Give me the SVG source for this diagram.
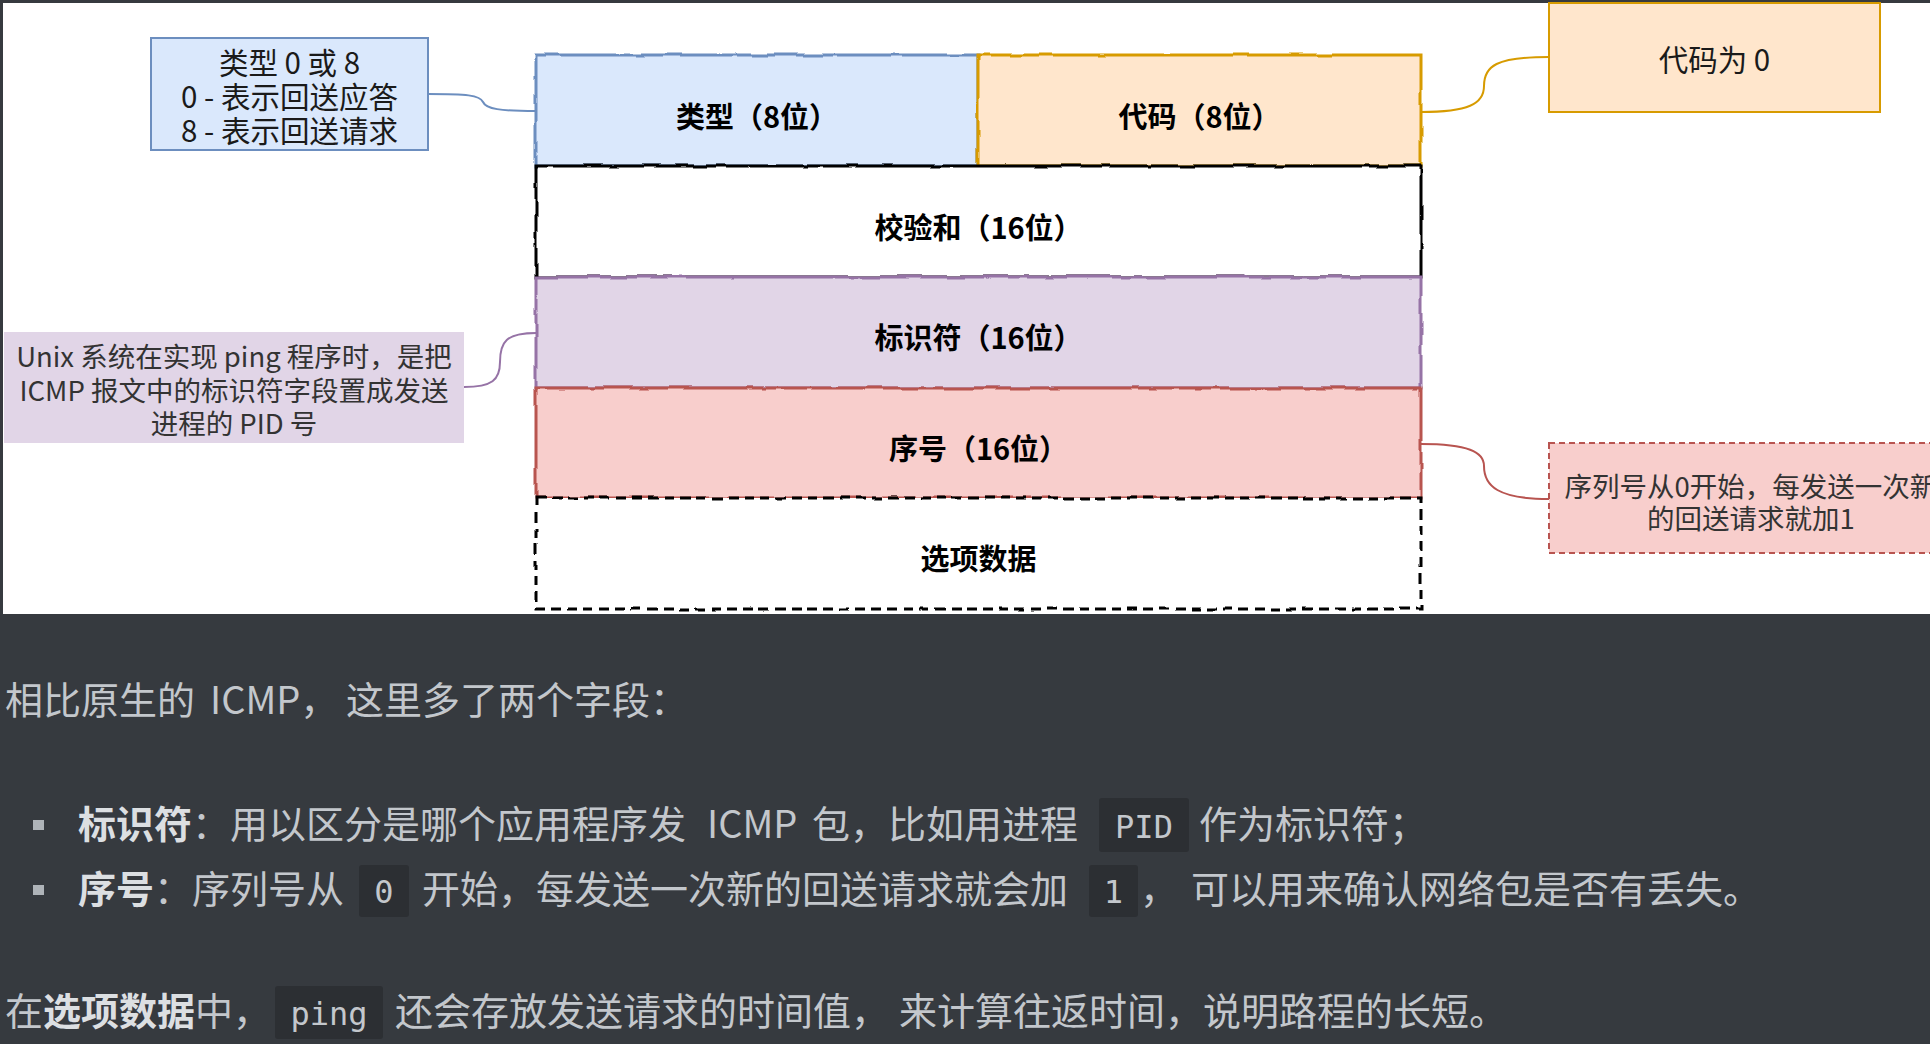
<svg xmlns="http://www.w3.org/2000/svg" width="1930" height="1044" viewBox="0 0 1930 1044">
<style>
.lbl{font-family:"Noto Sans CJK SC","Noto Sans",sans-serif;font-size:29px;font-weight:700;fill:#000;text-anchor:middle;dominant-baseline:central}
.note{font-family:"Noto Sans CJK SC","Noto Sans",sans-serif;font-size:29.5px;fill:#1a1a1a;text-anchor:middle;dominant-baseline:central}
.note2{font-family:"Noto Sans CJK SC","Noto Sans",sans-serif;font-size:27.5px;fill:#333;text-anchor:middle;dominant-baseline:central}
.edge{fill:none;stroke-width:2}
.cellbox{stroke-width:3}
.md{font-family:"Noto Sans CJK SC","Noto Sans",sans-serif;font-size:38px;fill:#c3c7cc}
.b{font-weight:700;fill:#dcdfe2}
.code{font-family:"DejaVu Sans Mono","Liberation Mono",monospace;font-size:32px;fill:#c3c7cc;text-anchor:middle}
.codebg{fill:#2c2f33}
</style>
<defs>
<filter id="rough" filterUnits="userSpaceOnUse" x="0" y="0" width="1930" height="1044">
<feTurbulence type="fractalNoise" baseFrequency="0.035" numOctaves="2" seed="5" result="n"/>
<feDisplacementMap in="SourceGraphic" in2="n" scale="4" xChannelSelector="R" yChannelSelector="G"/>
</filter>
</defs>
<rect x="0" y="0" width="1930" height="1044" fill="#363a3f"/>
<rect x="3" y="3" width="1927" height="611" fill="#ffffff"/>

<g id="connectors">
<path class="edge" stroke="#6c8ebf" d="M428,94 C466,94 480,95 483,102 C486,109 500,111 536,111"/>
<path class="edge" stroke="#d79b00" d="M1421,112 C1468,112 1484,104 1484,86 C1484,66 1496,57 1549,57"/>
<path class="edge" stroke="#9673a6" d="M464,387 C492,387 500,380 500,362 C500,342 506,333 536,333"/>
<path class="edge" stroke="#b85450" d="M1421,444 C1468,444 1484,452 1484,466 C1484,486 1498,499 1549,499"/>
</g>

<g id="type-field">
<rect x="536" y="55" width="442" height="111" fill="#dae8fc"/>
<rect class="cellbox" x="536" y="55" width="442" height="111" fill="none" stroke="#6c8ebf" filter="url(#rough)"/>
<text class="lbl" x="757" y="115">类型（8位）</text>
</g>
<g id="code-field">
<rect x="978" y="55" width="443" height="111" fill="#ffe6cc"/>
<rect class="cellbox" x="978" y="55" width="443" height="111" fill="none" stroke="#d79b00" filter="url(#rough)"/>
<text class="lbl" x="1199.5" y="115">代码（8位）</text>
</g>
<g id="checksum-field">
<rect x="536" y="166" width="885" height="111" fill="#ffffff"/>
<rect class="cellbox" x="536" y="166" width="885" height="111" fill="none" stroke="#000" filter="url(#rough)"/>
<text class="lbl" x="978.5" y="226">校验和（16位）</text>
</g>
<g id="identifier-field">
<rect x="536" y="277" width="885" height="111" fill="#e1d5e7"/>
<rect class="cellbox" x="536" y="277" width="885" height="111" fill="none" stroke="#9673a6" filter="url(#rough)"/>
<text class="lbl" x="978.5" y="336">标识符（16位）</text>
</g>
<g id="sequence-field">
<rect x="536" y="388" width="885" height="110" fill="#f8cecc"/>
<rect class="cellbox" x="536" y="388" width="885" height="110" fill="none" stroke="#b85450" filter="url(#rough)"/>
<text class="lbl" x="978.5" y="447">序号（16位）</text>
</g>
<g id="options-field">
<rect x="536" y="498" width="885" height="111" fill="#ffffff"/>
<rect class="cellbox" x="536" y="498" width="885" height="111" fill="none" stroke="#000" stroke-dasharray="10 6" filter="url(#rough)"/>
<text class="lbl" x="978.5" y="557">选项数据</text>
</g>

<g id="note-type">
<rect x="151" y="38" width="277" height="112" fill="#dae8fc" stroke="#6c8ebf" stroke-width="2"/>
<text class="note" x="289.5" y="61">类型 0 或 8</text>
<text class="note" x="289.5" y="95">0 - 表示回送应答</text>
<text class="note" x="289.5" y="129">8 - 表示回送请求</text>
</g>
<g id="note-code">
<rect x="1549" y="3" width="331" height="109" fill="#ffe6cc" stroke="#d79b00" stroke-width="2"/>
<text class="note" x="1714.5" y="58">代码为 0</text>
</g>
<g id="note-identifier">
<rect x="4" y="332" width="460" height="111" fill="#e1d5e7"/>
<text class="note2" x="234" y="355">Unix 系统在实现 ping 程序时，是把</text>
<text class="note2" x="234" y="389">ICMP 报文中的标识符字段置成发送</text>
<text class="note2" x="234" y="422">进程的 PID 号</text>
</g>
<g id="note-sequence">
<rect x="1549" y="443" width="403" height="110" fill="#f8cecc" stroke="#b85450" stroke-width="2" stroke-dasharray="6 4"/>
<text class="note2" x="1751" y="485">序列号从0开始，每发送一次新</text>
<text class="note2" x="1751" y="517">的回送请求就加1</text>
</g>

<g id="description">
<text class="md" y="714"><tspan x="5">相比原生的</tspan><tspan x="210">ICMP，</tspan><tspan x="346">这里多了两个字段：</tspan></text>

<rect x="33" y="820" width="11" height="10" fill="#aeb3b8"/>
<rect class="codebg" x="1099" y="798" width="90" height="54" rx="3"/>
<text class="md" y="838"><tspan class="b" x="78">标识符</tspan><tspan x="192">：用以区分是哪个应用程序发</tspan><tspan x="707">ICMP</tspan><tspan x="812">包，比如用进程</tspan><tspan x="1199">作为标识符；</tspan></text>
<text class="code" x="1144" y="838">PID</text>

<rect x="33" y="885" width="11" height="10" fill="#aeb3b8"/>
<rect class="codebg" x="359" y="865" width="50" height="52" rx="3"/>
<rect class="codebg" x="1089" y="865" width="49" height="52" rx="3"/>
<text class="md" y="903"><tspan class="b" x="78">序号</tspan><tspan x="154">：序列号从</tspan><tspan x="422">开始，每发送一次新的回送请求就会加</tspan><tspan x="1140">，</tspan><tspan x="1191">可以用来确认网络包是否有丢失。</tspan></text>
<text class="code" x="384" y="903">0</text>
<text class="code" x="1113.5" y="903">1</text>

<rect class="codebg" x="275" y="986" width="108" height="53" rx="3"/>
<text class="md" y="1025"><tspan x="5">在</tspan><tspan class="b" x="43">选项数据</tspan><tspan x="195">中，</tspan><tspan x="395">还会存放发送请求的时间值，</tspan><tspan x="899">来计算往返时间，说明路程的长短。</tspan></text>
<text class="code" x="329" y="1025">ping</text>
</g>
</svg>
